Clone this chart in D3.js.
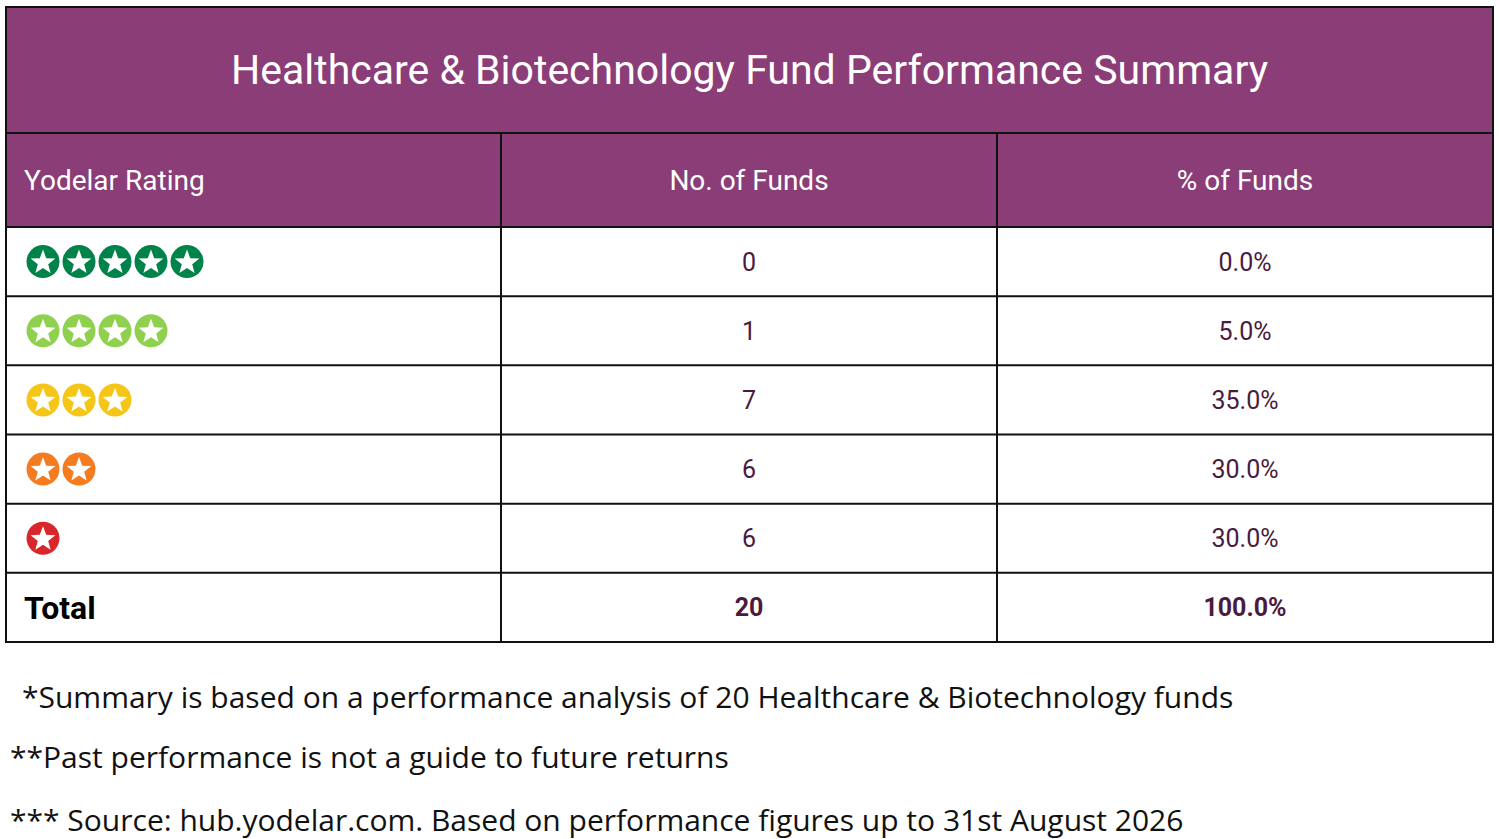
<!DOCTYPE html><html><head><meta charset="utf-8"><script src="https://cdn.jsdelivr.net/npm/d3@7"></script>
<style>body{margin:0;background:#fff}</style></head><body><svg id="c" width="1500" height="839"></svg>
<script>
const title="Healthcare & Biotechnology Fund Performance Summary";
const headers=["Yodelar Rating","No. of Funds","% of Funds"];
const stars=[5,4,3,2,1];
const starColors=["#00834a","#8fd14f","#f5c518","#f47b20","#d9262c"];
const funds=[0,1,7,6,6];
const pct=["0.0%","5.0%","35.0%","30.0%","30.0%"];
const totalLabel="Total", totalFunds="20", totalPct="100.0%";
const notes=["*Summary is based on a performance analysis of 20 Healthcare & Biotechnology funds","**Past performance is not a guide to future returns","*** Source: hub.yodelar.com. Based on performance figures up to 31st August 2026"];
const svg=d3.select("#c");
const purple="#8b3d78", L=6,R=1493;
const cols=[L,501,997,R];
const rowY=d3.scaleLinear().domain([0,6]).range([227,642]);
svg.append("rect").attr("x",L).attr("y",7).attr("width",R-L).attr("height",220).attr("fill",purple);
svg.append("text").attr("x",(L+R)/2).attr("y",84).attr("text-anchor","middle").attr("fill","#fff").attr("font-family","Roboto").attr("font-size",41).text(title);
const hx=[24,749,1245];
headers.forEach((h,i)=>svg.append("text").attr("x",hx[i]).attr("y",190).attr("text-anchor",i?"middle":"start").attr("fill","#fff").attr("font-family","Roboto").attr("font-size",28).text(h));
const txt="#4a1a3f";
function starPath(cx,cy,r){let p=[];for(let k=0;k<10;k++){const a=-Math.PI/2+k*Math.PI/5,rr=k%2?r*0.42:r;p.push([cx+rr*Math.cos(a),cy+rr*Math.sin(a)]);}return "M"+p.join("L")+"Z";}
stars.forEach((n,i)=>{const cy=(rowY(i)+rowY(i+1))/2;
 for(let k=0;k<n;k++){const cx=43+k*36;
  svg.append("circle").attr("cx",cx).attr("cy",cy).attr("r",16.5).attr("fill",starColors[i]);
  svg.append("path").attr("d",starPath(cx,cy+1,13)).attr("fill","#fff");}
 svg.append("text").attr("x",749).attr("y",cy+9).attr("text-anchor","middle").attr("fill",txt).attr("font-family","Roboto").attr("font-size",25).text(funds[i]);
 svg.append("text").attr("x",1245).attr("y",cy+9).attr("text-anchor","middle").attr("fill",txt).attr("font-family","Roboto").attr("font-size",25).text(pct[i]);
});
const ty=(rowY(5)+rowY(6))/2;
svg.append("text").attr("x",24).attr("y",ty+12).attr("font-family","Roboto").attr("font-weight",700).attr("font-size",32).attr("fill","#000").text(totalLabel);
svg.append("text").attr("x",749).attr("y",ty+9).attr("text-anchor","middle").attr("font-family","Roboto").attr("font-weight",700).attr("font-size",25).attr("fill",txt).text(totalFunds);
svg.append("text").attr("x",1245).attr("y",ty+9).attr("text-anchor","middle").attr("font-family","Roboto").attr("font-weight",700).attr("font-size",25).attr("fill",txt).text(totalPct);
// grid lines
const g=svg.append("g").attr("stroke","#111").attr("stroke-width",2);
g.append("rect").attr("x",L).attr("y",7).attr("width",R-L).attr("height",635).attr("fill","none");
[133,...d3.range(0,7).map(rowY)].forEach(y=>g.append("line").attr("x1",L).attr("x2",R).attr("y1",y).attr("y2",y));
[1,2].forEach(c=>g.append("line").attr("x1",cols[c]).attr("x2",cols[c]).attr("y1",133).attr("y2",642));
const nx=[22,10,10],ny=[708,768,831];
notes.forEach((t,i)=>svg.append("text").attr("x",nx[i]).attr("y",ny[i]).attr("font-family","'Open Sans'").attr("font-size",30).attr("fill","#111").text(t));
</script></body></html>
